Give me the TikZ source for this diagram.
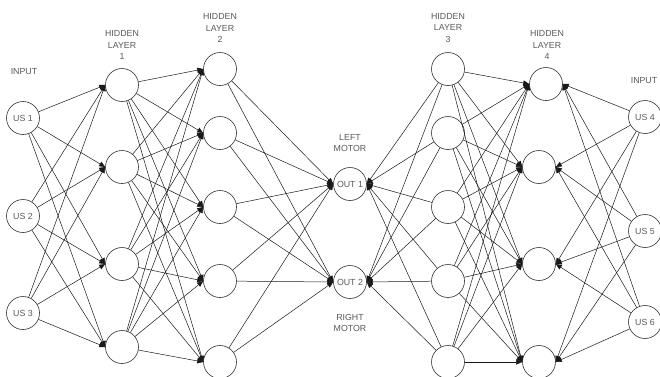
\documentclass[tikz,border=0pt]{standalone}
\usepackage{fontspec}
\setmainfont{Liberation Sans}
\usetikzlibrary{arrows.meta}
\begin{document}
\begin{tikzpicture}[x=1pt,y=-1pt,
  neuron/.style={circle,draw=black!80,line width=0.6pt,minimum size=33pt,inner sep=0pt,
    font=\fontsize{8.8}{10}\selectfont,text=black!65},
  lbl/.style={align=center,font=\fontsize{8.8}{11.5}\selectfont,text=black!65,inner sep=0pt},
  conn/.style={draw=black!90,line width=0.5pt,-{Triangle[length=6pt,width=5pt]}},
]
\useasboundingbox (0,0) rectangle (660,376);

% input left
\node[neuron] (i1) at (23,118) {US 1};
\node[neuron] (i2) at (23,216) {US 2};
\node[neuron] (i3) at (23,313) {US 3};
% hidden layer 1
\node[neuron] (a1) at (122,85) {};
\node[neuron] (a2) at (122,167) {};
\node[neuron] (a3) at (122,264) {};
\node[neuron] (a4) at (122,347) {};
% hidden layer 2
\node[neuron] (b1) at (220,69) {};
\node[neuron] (b2) at (220,133) {};
\node[neuron] (b3) at (220,207) {};
\node[neuron] (b4) at (220,281) {};
\node[neuron] (b5) at (220,362) {};
% outputs
\node[neuron] (o1) at (350,184) {OUT 1};
\node[neuron] (o2) at (350,282) {OUT 2};
% hidden layer 3
\node[neuron] (c1) at (448,69) {};
\node[neuron] (c2) at (448,133) {};
\node[neuron] (c3) at (448,207) {};
\node[neuron] (c4) at (448,281) {};
\node[neuron] (c5) at (448,362) {};
% hidden layer 4
\node[neuron] (d1) at (546,84) {};
\node[neuron] (d2) at (539,167) {};
\node[neuron] (d3) at (539,264) {};
\node[neuron] (d4) at (539,362) {};
% input right
\node[neuron] (j1) at (645,117) {US 4};
\node[neuron] (j2) at (645,231) {US 5};
\node[neuron] (j3) at (645,322) {US 6};

% labels
\node[lbl] (tin1) at (24,72) {INPUT};
\node[lbl] (th1) at (122,45) {HIDDEN\\LAYER\\1};
\node[lbl] (th2) at (220,28) {HIDDEN\\LAYER\\2};
\node[lbl] (th3) at (448,28) {HIDDEN\\LAYER\\3};
\node[lbl] (th4) at (547,45) {HIDDEN\\LAYER\\4};
\node[lbl] (tin2) at (644,81) {INPUT};
\node[lbl] (tlm) at (350,143) {LEFT\\MOTOR};
\node[lbl] (trm) at (350,323) {RIGHT\\MOTOR};

% connections
\foreach \s in {i1,i2,i3} \foreach \t in {a1,a2,a3,a4} \draw[conn] (\s) -- (\t.west);
\foreach \s in {a1,a2,a3,a4} \foreach \t in {b1,b2,b3,b4,b5} \draw[conn] (\s) -- (\t.west);
\foreach \s in {b1,b2,b3,b4,b5} \foreach \t in {o1,o2} \draw[conn] (\s) -- (\t.west);
\foreach \s in {c1,c2,c3,c4,c5} \foreach \t in {o1,o2} \draw[conn] (\s) -- (\t.east);
\foreach \s in {c1,c2,c3,c4,c5} \foreach \t in {d1,d2,d3,d4} \draw[conn] (\s) -- (\t.west);
\foreach \s in {j1,j2,j3} \foreach \t in {d1,d2,d3,d4} \draw[conn] (\s) -- (\t.east);
\end{tikzpicture}
\end{document}
